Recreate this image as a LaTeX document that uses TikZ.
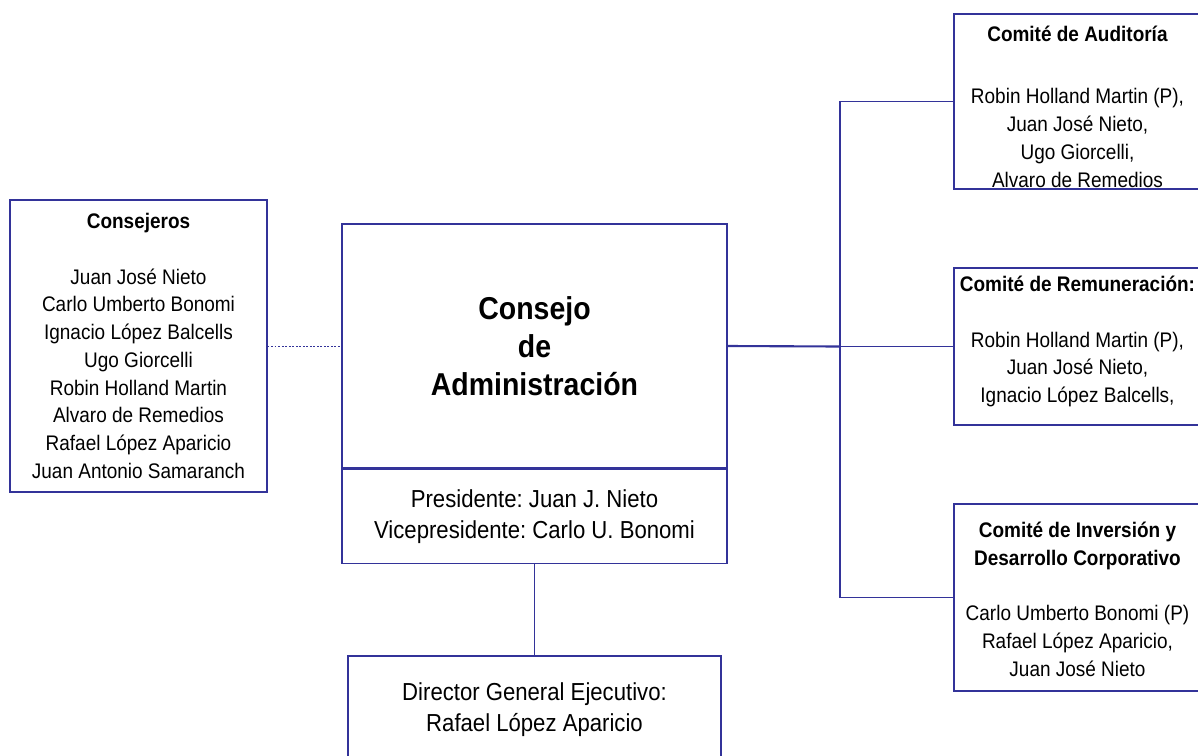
\documentclass[tikz,border=0pt]{standalone}
\usepackage{fontspec}
\setmainfont[FakeStretch=0.9]{Liberation Sans}
\usetikzlibrary{calc}
\usepackage{xcolor}
\definecolor{azul}{RGB}{51,51,153}
\frenchspacing

\begin{document}
\begin{tikzpicture}[x=0.02cm, y=-0.02cm,
    caja/.style={draw=azul, line width=0.8pt, align=center, inner sep=0pt},
    tam/.style 2 args={minimum width=#1*0.02cm, minimum height=#2*0.02cm},
    nombres/.style={font=\fontsize{12}{15.8}\selectfont, align=center},
    grande/.style={font=\fontsize{14}{17.6}\selectfont},
    conector/.style={draw=azul, line width=0.8pt}]

        \clip (0,0) rectangle (1198,755);

        % Consejeros
        \node[caja, tam={257}{292}, nombres] (consejeros) at (138.5,346)
          {\textbf{Consejeros}\\[15.8pt]
           Juan José Nieto\\ Carlo Umberto Bonomi\\ Ignacio López Balcells\\ Ugo Giorcelli\\
           Robin Holland Martin\\ Alvaro de Remedios\\ Rafael López Aparicio\\ Juan Antonio Samaranch};

        % Consejo de Administracion
        \node[caja, tam={385}{244}, font=\bfseries\fontsize{18}{21.5}\selectfont] (consejo) at (534.5,346)
          {Consejo\\ de\\ Administración};
        \node[caja, tam={385}{94}, grande, anchor=north] (presidencia) at (consejo.south)
          {Presidente: Juan J. Nieto\\ Vicepresidente: Carlo U. Bonomi};
        \node[caja, tam={373}{108}, grande] (director) at (534.5,710)
          {Director General Ejecutivo:\\ Rafael López Aparicio};

        % Comites (the right side runs off the page)
        \node[caja, tam={254}{175}] (auditoria) at (1081,101.5) {};
        \node[nombres] (auditoriaT) at ($(auditoria)+(-3.5,5)$)
          {\textbf{Comité de Auditoría}\\[20pt]
           Robin Holland Martin (P),\\ Juan José Nieto,\\ Ugo Giorcelli,\\ Alvaro de Remedios};
        \node[caja, tam={254}{157}] (remuneracion) at (1081,346.5) {};
        \node[nombres] (remuneracionT) at ($(remuneracion)+(-3.5,-5)$)
          {\textbf{Comité de Remuneración:}\\[15.8pt]
           Robin Holland Martin (P),\\ Juan José Nieto,\\ Ignacio López Balcells,};
        \node[caja, tam={254}{187}] (inversion) at (1081,597.5) {};
        \node[nombres] (inversionT) at ($(inversion)+(-3.5,1.5)$)
          {\textbf{Comité de Inversión y}\\ \textbf{Desarrollo Corporativo}\\[15.8pt]
           Carlo Umberto Bonomi (P)\\ Rafael López Aparicio,\\ Juan José Nieto};

        % Conectores
        \coordinate (tronco) at (840,346.5);
        \draw[conector, dash pattern=on 1pt off 1pt, line width=0.5pt] (consejeros.east) -- (consejo.west);
        \draw[conector, line width=1.2pt] (consejo.east) -- (tronco);
        \draw[conector] (auditoria.west) -| (tronco) -- (tronco |- inversion.west) -- (inversion.west);
        \draw[conector] (tronco) -- (remuneracion.west);
        \draw[conector] (presidencia.south) -- (director.north);
    \end{tikzpicture}
\end{document}
